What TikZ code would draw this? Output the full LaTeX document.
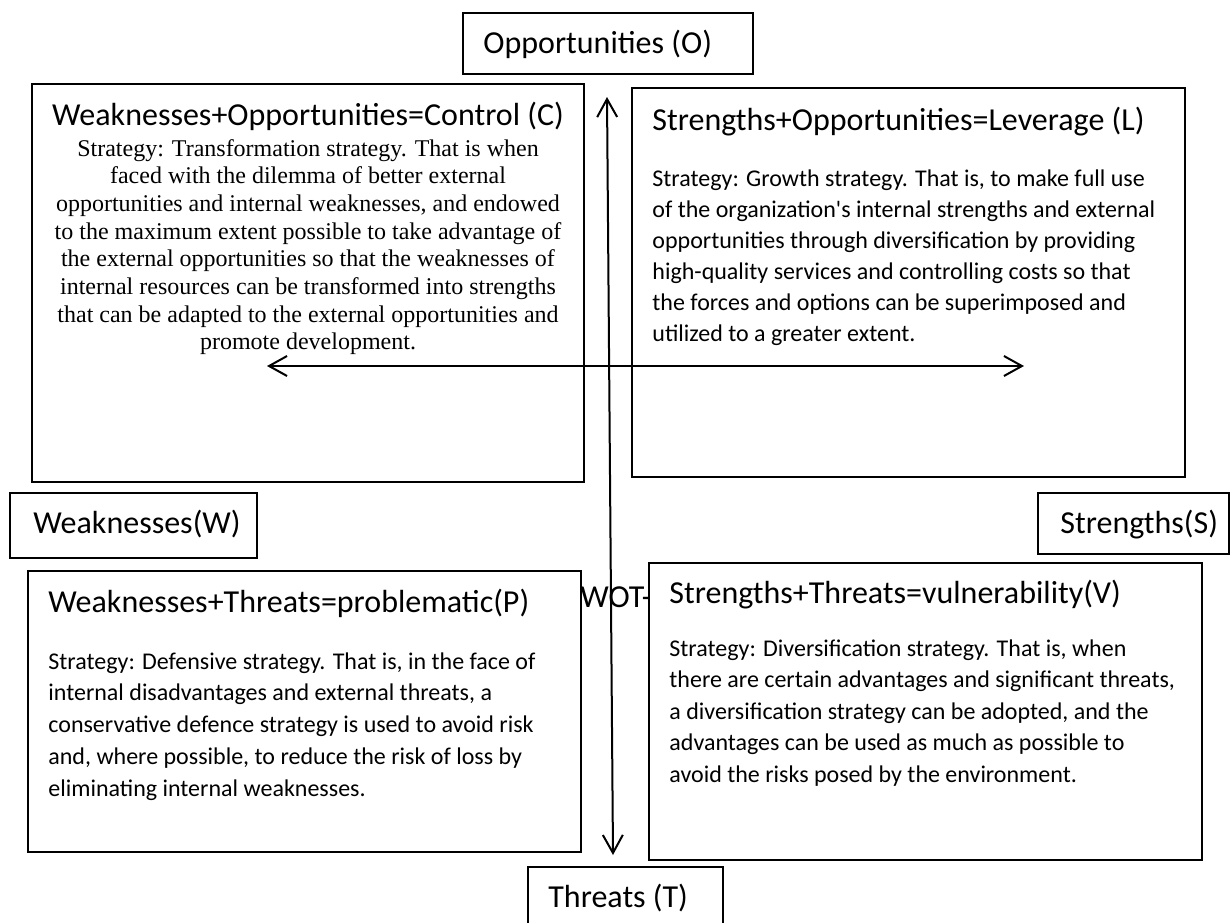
\documentclass[tikz,border=0pt]{standalone}
\usepackage{fontspec}
\newfontfamily\calfont{Carlito}
\newfontfamily\tnrfont{Liberation Serif}
\usetikzlibrary{arrows.meta}
\begin{document}
\begin{tikzpicture}[x=0.5pt,y=-0.5pt,
  box/.style={draw=black, line width=0.7pt, fill=white, anchor=north west, inner sep=0pt, outer sep=0pt},
  ttl/.style={anchor=base west, inner sep=0pt, font=\calfont\fontsize{16}{19}\selectfont},
  ttlc/.style={anchor=base, inner sep=0pt, font=\calfont\fontsize{16}{19}\selectfont},
  bdy/.style={anchor=base west, inner sep=0pt, font=\calfont\fontsize{12}{14}\selectfont},
  tms/.style={anchor=base, inner sep=0pt, font=\tnrfont\fontsize{12}{14}\selectfont},
  axis/.style={line width=1pt, {Straight Barb[length=9pt,width=10pt]}-{Straight Barb[length=9pt,width=10pt]}}
]
\useasboundingbox (0,0) rectangle (1230,922);
\clip (0,0) rectangle (1230,922);
\fill[white] (0,0) rectangle (1230,922);

% quadrant and label boxes
\node[box, minimum width=145pt, minimum height=30.5pt] (Obox) at (463,13) {};
\node[box, minimum width=276pt, minimum height=199pt] (Cbox) at (32,84) {};
\node[box, minimum width=276.5pt, minimum height=194.5pt] (Lbox) at (632,88) {};
\node[box, minimum width=123.5pt, minimum height=32.5pt] (Wbox) at (10,493) {};
\node[box, minimum width=95.5pt, minimum height=30.5pt] (Sbox) at (1038,493) {};
\node[box, minimum width=276.5pt, minimum height=140.5pt] (Pbox) at (28,571) {};
\node[ttl] (wot) at (580,607) {WOT-};
\node[box, minimum width=276.5pt, minimum height=148.5pt] (Vbox) at (649,563) {};
\node[box, minimum width=97.5pt, minimum height=30pt] (Tbox) at (528,867) {};

% labels
\node[ttl] (Otxt) at (483,53) {Opportunities (O)};
\node[ttl] (Wtxt) at (33,533) {Weaknesses(W)};
\node[ttl] (Stxt) at (1060,533) {Strengths(S)};
\node[ttl] (Ttxt) at (548,907) {Threats (T)};

% titles
\node[ttlc] (Ctitle) at (308,125) {Weaknesses+Opportunities=Control (C)};
\node[ttl] (Ltitle) at (652,130) {Strengths+Opportunities=Leverage (L)};
\node[ttl] (Ptitle) at (48,612) {Weaknesses+Threats=problematic(P)};
\node[ttl] (Vtitle) at (669,603) {Strengths+Threats=vulnerability(V)};

% C body (serif, centred)
\foreach \t [count=\i] in {
  {Strategy: Transformation strategy. That is when},
  {faced with the dilemma of better external},
  {opportunities and internal weaknesses, and endowed},
  {to the maximum extent possible to take advantage of},
  {the external opportunities so that the weaknesses of},
  {internal resources can be transformed into strengths},
  {that can be adapted to the external opportunities and},
  {promote development.}}{
  \pgfmathsetmacro\yy{156+27.7*(\i-1)}
  \node[tms] (Cb\i) at (308,\yy) {\t};
}

% L body
\foreach \t [count=\i] in {
  {Strategy: Growth strategy. That is, to make full use},
  {of the organization\textquotesingle s internal strengths and external},
  {opportunities through diversification by providing},
  {high-quality services and controlling costs so that},
  {the forces and options can be superimposed and},
  {utilized to a greater extent.}}{
  \pgfmathsetmacro\yy{186+31*(\i-1)}
  \node[bdy] (Lb\i) at (652,\yy) {\t};
}

% P body
\foreach \t [count=\i] in {
  {Strategy: Defensive strategy. That is, in the face of},
  {internal disadvantages and external threats, a},
  {conservative defence strategy is used to avoid risk},
  {and, where possible, to reduce the risk of loss by},
  {eliminating internal weaknesses.}}{
  \pgfmathsetmacro\yy{669+31.8*(\i-1)}
  \node[bdy] (Pb\i) at (48,\yy) {\t};
}

% V body
\foreach \t [count=\i] in {
  {Strategy: Diversification strategy. That is, when},
  {there are certain advantages and significant threats,},
  {a diversification strategy can be adopted, and the},
  {advantages can be used as much as possible to},
  {avoid the risks posed by the environment.}}{
  \pgfmathsetmacro\yy{656+31.5*(\i-1)}
  \node[bdy] (Vb\i) at (669,\yy) {\t};
}

% axes
\coordinate (vtop) at (607,97);
\coordinate (vbot) at (613,855);
\coordinate (hleft) at (267,366);
\coordinate (hright) at (1024,366);
\draw[axis] (vtop) -- (vbot);
\draw[axis] (hleft) -- (hright);
\end{tikzpicture}
\end{document}
